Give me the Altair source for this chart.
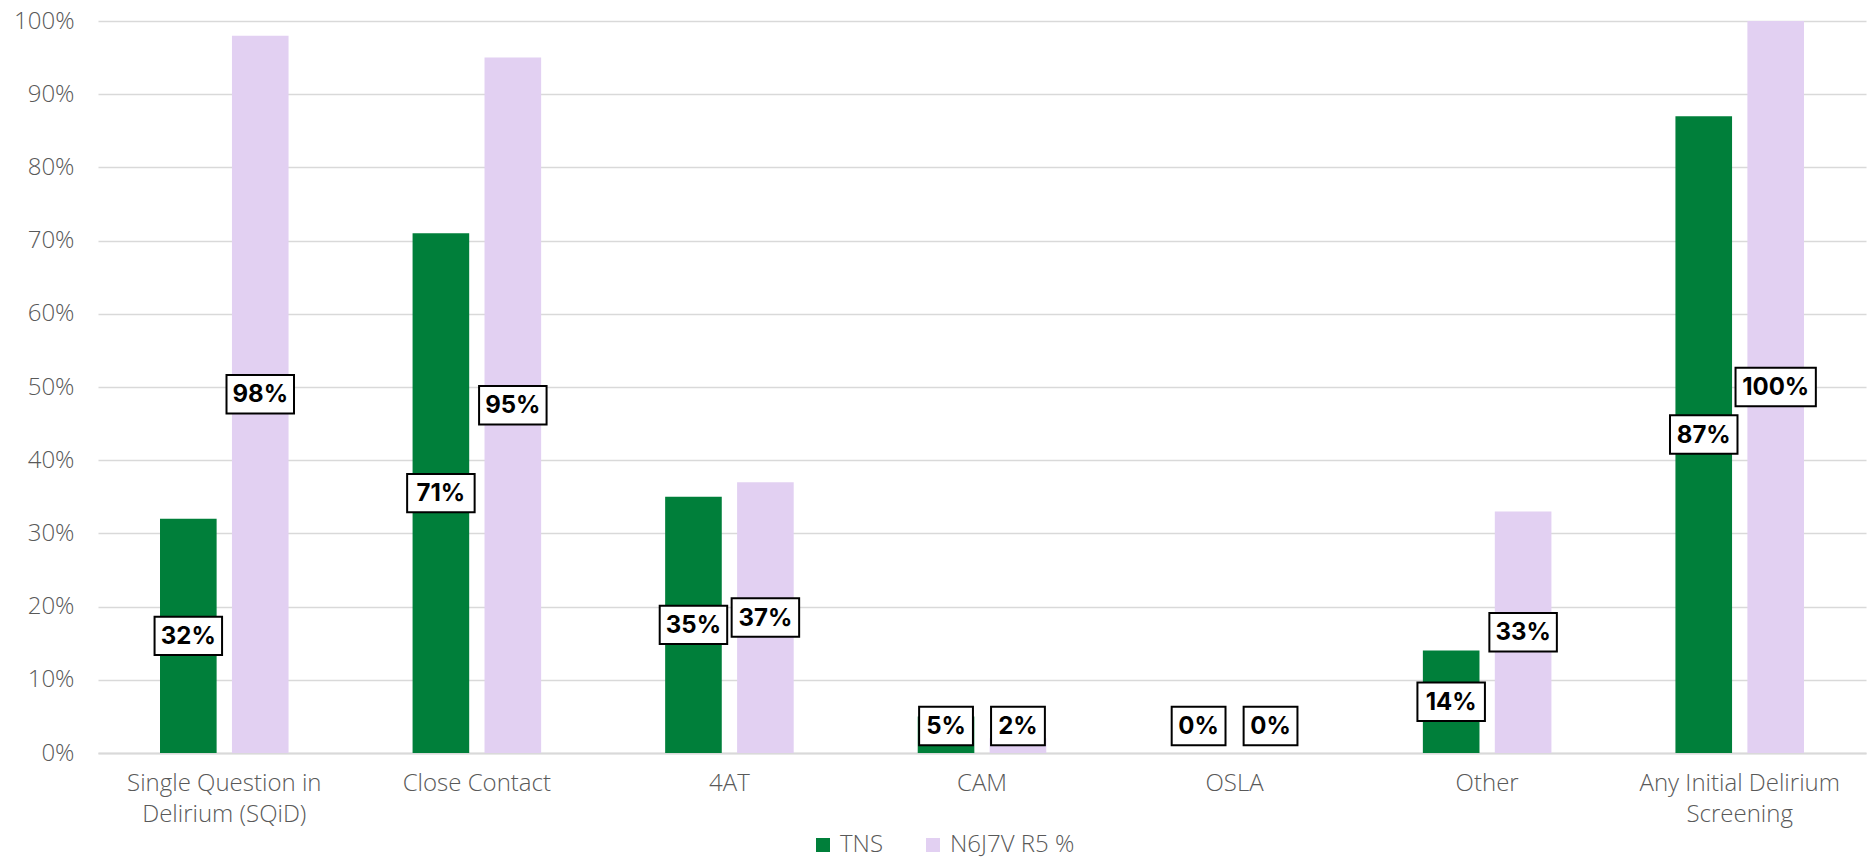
import altair as alt
import pandas as pd

categories = ["Single Question in Delirium (SQiD)", "Close Contact", "4AT", "CAM",
              "OSLA", "Other", "Any Initial Delirium Screening"]
series_names = ["TNS", "N6J7V R5 %"]
tns_values = [32, 71, 35, 5, 0, 14, 87]
n6j7v_values = [98, 95, 37, 2, 0, 33, 100]
y_ticks = [0, 10, 20, 30, 40, 50, 60, 70, 80, 90, 100]

rows = []
for c, a, b in zip(categories, tns_values, n6j7v_values):
    rows.append({"category": c, "series": series_names[0], "value": a / 100})
    rows.append({"category": c, "series": series_names[1], "value": b / 100})
df = pd.DataFrame(rows)

GREEN = "#007F3A"
LAV = "#E2D0F2"
AXIS_GRAY = "#595959"
GRID = "#D9D9D9"
FONT = "Open Sans"

label_expr = ("datum.label == 'Single Question in Delirium (SQiD)' ? ['Single Question in', 'Delirium (SQiD)'] : "
              "datum.label == 'Any Initial Delirium Screening' ? ['Any Initial Delirium', 'Screening'] : datum.label")

x_enc = alt.X("category:N", sort=categories, title=None,
              scale=alt.Scale(paddingInner=0.491, paddingOuter=0.2455),
              axis=alt.Axis(labelAngle=0, labelExpr=label_expr, labelFontSize=24,
                            labelLineHeight=31, labelColor=AXIS_GRAY, labelFont=FONT,
                            labelFontWeight=300, labelPadding=18, ticks=False,
                            domainColor=GRID, domainWidth=2, labelLimit=400))
xoff_enc = alt.XOffset("series:N",
                       scale=alt.Scale(domain=series_names, paddingInner=0.213, paddingOuter=0))
y_scale = alt.Scale(domain=[0, 1], nice=False)

bars = alt.Chart(df).mark_bar().encode(
    x=x_enc,
    xOffset=xoff_enc,
    y=alt.Y("value:Q", scale=y_scale, title=None,
            axis=alt.Axis(values=[t / 100 for t in y_ticks], format=".0%", labelFontSize=24,
                          labelColor=AXIS_GRAY, labelFont=FONT, labelFontWeight=300,
                          labelPadding=24, ticks=False, domain=False,
                          gridColor=GRID, gridWidth=1.5)),
    color=alt.Color("series:N", scale=alt.Scale(domain=series_names, range=[GREEN, LAV]),
                    legend=alt.Legend(title=None, orient="none", legendX=713, legendY=812,
                                      direction="horizontal", symbolType="square",
                                      symbolSize=196, symbolStrokeWidth=0, labelFontSize=24,
                                      labelColor=AXIS_GRAY, labelFont=FONT, labelFontWeight=300,
                                      columnPadding=38, labelOffset=5)),
)

s = 0.45
paths = [
    f"M-0.63,-{s}H0.63V{s}H-0.63Z",
    f"M-0.79,-{s}H0.79V{s}H-0.79Z",
    f"M-0.94,-{s}H0.94V{s}H-0.94Z",
]

lab_base = alt.Chart(df).transform_calculate(
    label="format(datum.value, '.0%')",
    len="length(format(datum.value, '.0%'))",
    ypos="max(datum.value / 2, 0.037)",
)

boxes = lab_base.mark_point(filled=True, fill="white", stroke="black", strokeWidth=2,
                            opacity=1, size=7300).encode(
    x=alt.X("category:N", sort=categories),
    xOffset=xoff_enc,
    y=alt.Y("ypos:Q", scale=y_scale),
    shape=alt.Shape("len:O", scale=alt.Scale(domain=[2, 3, 4], range=paths), legend=None),
)

texts = lab_base.mark_text(font="Inter", fontWeight="bold", fontSize=24, color="black",
                           baseline="middle", dy=1).encode(
    x=alt.X("category:N", sort=categories),
    xOffset=xoff_enc,
    y=alt.Y("ypos:Q", scale=y_scale),
    text="label:N",
)

chart = alt.layer(bars, boxes, texts).properties(
    width=1768, height=732,
    autosize=alt.AutoSizeParams(type="none"),
    padding={"left": 90, "top": 13, "right": 2, "bottom": 107},
).configure_view(stroke=None).configure_axis(gridColor=GRID)

chart.save("out.html", embed_options={"renderer": "svg", "actions": False})
